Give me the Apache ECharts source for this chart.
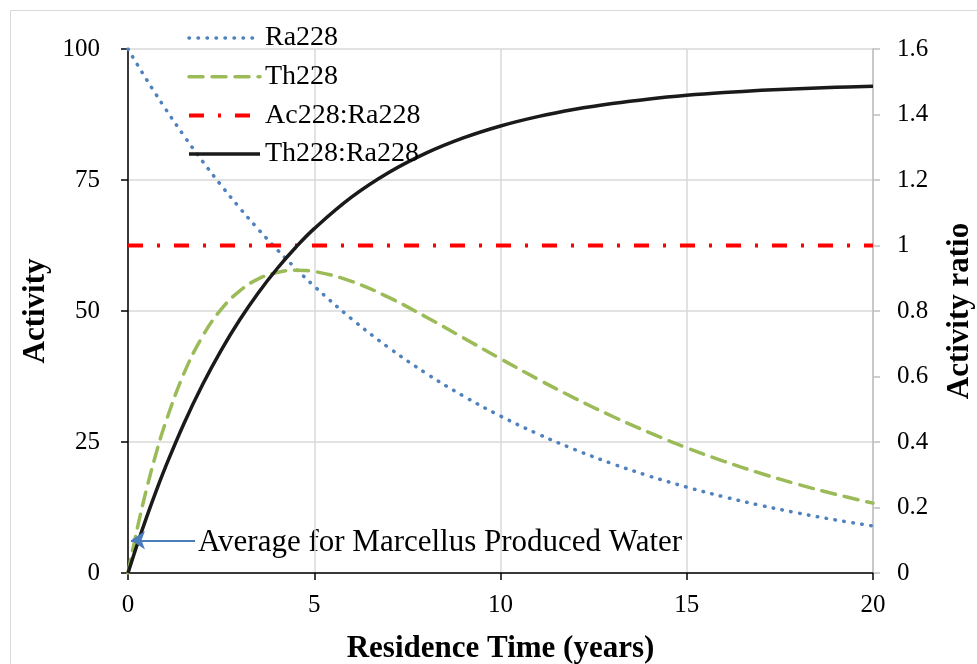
<!DOCTYPE html>
<html>
<head>
<meta charset="utf-8">
<script src="https://cdn.jsdelivr.net/npm/echarts@6/dist/echarts.min.js"></script>
<style>html,body{margin:0;padding:0;background:#fff;overflow:hidden;}#c{width:977px;height:664px;}</style>
</head>
<body>
<div id="c"></div>
<script>
// Residence time (years)
var years = [0,0.25,0.5,0.75,1,1.5,2,2.5,3,3.5,4,4.5,5,6,7,8,9,10,11,12,13,14,15,16,17,18,19,20];
// Ra228 activity (left axis)
var ra228 = [100,97.03,94.15,91.36,88.64,83.46,78.58,73.98,69.65,65.58,61.74,58.13,54.73,48.51,43.01,38.12,33.79,29.95,26.55,23.54,20.86,18.49,16.39,14.53,12.88,11.42,10.12,8.97];
// Th228 activity (left axis)
var th228 = [0,8.53,16.07,22.72,28.54,38.06,45.17,50.31,53.86,56.13,57.36,57.78,57.54,55.66,52.59,48.87,44.89,40.88,37.00,33.33,29.91,26.77,23.90,21.32,18.98,16.89,15.01,13.33];
// Ac228:Ra228 ratio (right axis)
var ac228ra228 = [1,1,1,1,1,1,1,1,1,1,1,1,1,1,1,1,1,1,1,1,1,1,1,1,1,1,1,1];
// Th228:Ra228 ratio (right axis)
var th228ra228 = [0,0.0879,0.1707,0.2487,0.3220,0.4560,0.5748,0.6800,0.7733,0.8559,0.9290,0.9939,1.0514,1.1474,1.2228,1.2820,1.3285,1.3650,1.3936,1.4161,1.4337,1.4476,1.4585,1.4670,1.4737,1.4790,1.4831,1.4863];
var seriesNames = ['Ra228','Th228','Ac228:Ra228','Th228:Ra228'];
var annotationText = 'Average for Marcellus Produced Water';
// annotation arrow (years, activity ratio)
var arrowFrom = [1.8, 0.1];
var arrowTo = [0.08, 0.1];

function pairs(xs, ys){ return xs.map(function(x,i){ return [x, ys[i]]; }); }

var FONT = 'Liberation Serif';
var legendWidths = [3.5, 3.5, 4, 3.5];
var chart = echarts.init(document.getElementById('c'), null, {renderer:'canvas'});
chart.setOption({
  animation:false,
  backgroundColor:'#ffffff',
  graphic:[
    {type:'rect', shape:{x:10.5,y:10.5,width:1000,height:700}, style:{fill:'none', stroke:'#d9d9d9', lineWidth:1}, silent:true, z:-10},
    {type:'text', x:198, y:543, style:{text:annotationText, font:'31px "'+FONT+'"', fill:'#000', verticalAlign:'middle', align:'left'}}
  ],
  grid:{left:128, right:104, top:49, bottom:91, containLabel:false, outerBoundsMode:'none'},
  legend:{
    orient:'vertical', left:182, top:19,
    itemWidth:71, itemHeight:14, itemGap:10.7,
    data:seriesNames.map(function(n,i){ return {name:n, itemStyle:{opacity:0}, lineStyle:{width:legendWidths[i]}}; }),
    textStyle:{fontFamily:FONT, fontSize:28, color:'#000', lineHeight:28}
  },
  xAxis:{
    type:'value', min:0, max:20, interval:5,
    name:'Residence Time (years)', nameLocation:'middle', nameGap:60,
    nameTextStyle:{fontFamily:FONT, fontSize:31, fontWeight:'bold', color:'#000'},
    axisLine:{show:true, lineStyle:{color:'#000', width:1.5}},
    axisTick:{show:true, length:7, lineStyle:{color:'#000', width:1.5}},
    axisLabel:{fontFamily:FONT, fontSize:25, color:'#000', margin:20},
    splitLine:{show:true, lineStyle:{color:'#d9d9d9', width:1.5}}
  },
  yAxis:[
    {
      type:'value', min:0, max:100, interval:25, position:'left',
      name:'Activity', nameLocation:'middle', nameGap:75, nameRotate:90,
      nameTextStyle:{fontFamily:FONT, fontSize:31, fontWeight:'bold', color:'#000'},
      axisLine:{show:true, lineStyle:{color:'#000', width:1.5}},
      axisTick:{show:true, length:7, lineStyle:{color:'#000', width:1.5}},
      axisLabel:{fontFamily:FONT, fontSize:25, color:'#000', margin:28},
      splitLine:{show:true, lineStyle:{color:'#d9d9d9', width:1.5}}
    },
    {
      type:'value', min:0, max:1.6, interval:0.2, position:'right',
      name:'Activity ratio', nameLocation:'middle', nameGap:71, nameRotate:90,
      nameTextStyle:{fontFamily:FONT, fontSize:31, fontWeight:'bold', color:'#000'},
      axisLine:{show:true, lineStyle:{color:'#bfbfbf', width:1.5}},
      axisTick:{show:true, length:7, lineStyle:{color:'#bfbfbf', width:1.5}},
      axisLabel:{fontFamily:FONT, fontSize:25, color:'#000', margin:24},
      splitLine:{show:false}
    }
  ],
  series:[
    {
      name:seriesNames[0], type:'line', yAxisIndex:0, smooth:0.4, showSymbol:false, symbol:'none',
      data:pairs(years, ra228),
      itemStyle:{color:'#4f81bd'},
      lineStyle:{color:'#4f81bd', width:3.5, type:[0.5,8.5], cap:'round'}
    },
    {
      name:seriesNames[1], type:'line', yAxisIndex:0, smooth:0.4, showSymbol:false, symbol:'none',
      data:pairs(years, th228),
      itemStyle:{color:'#9bbb59'},
      lineStyle:{color:'#9bbb59', width:3.5, type:[14,9], cap:'round'}
    },
    {
      name:seriesNames[2], type:'line', yAxisIndex:1, showSymbol:false, symbol:'none',
      data:pairs(years, ac228ra228),
      itemStyle:{color:'#ff0000'},
      lineStyle:{color:'#ff0000', width:4, type:[15,14,3,14], cap:'butt'}
    },
    {
      name:seriesNames[3], type:'line', yAxisIndex:1, smooth:0.4, showSymbol:false, symbol:'none',
      data:pairs(years, th228ra228),
      itemStyle:{color:'#1a1a1a'},
      lineStyle:{color:'#1a1a1a', width:3.5, type:'solid'},
      markLine:{
        silent:true, symbol:['none','arrow'], symbolSize:[14,14],
        label:{show:false},
        itemStyle:{color:'#4a7ebb'},
        lineStyle:{color:'#4a7ebb', width:2, type:'solid', cap:'butt'},
        data:[[{coord:arrowFrom},{coord:arrowTo}]]
      }
    }
  ]
});
</script>
</body>
</html>
